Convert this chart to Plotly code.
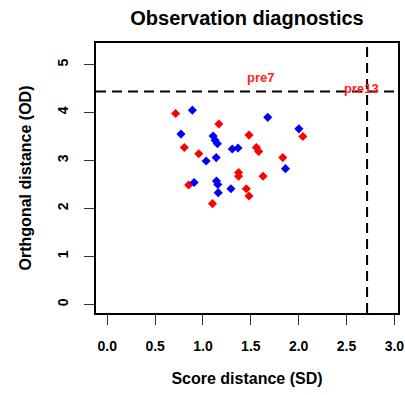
import plotly.graph_objects as go

red_sd = [0.714, 1.166, 0.805, 0.956, 1.481, 1.558, 1.582, 2.044, 1.834, 1.372, 1.372, 1.628, 0.851, 1.453, 1.481, 1.099]
red_od = [3.98, 3.76, 3.27, 3.14, 3.53, 3.27, 3.19, 3.50, 3.06, 2.75, 2.67, 2.67, 2.49, 2.41, 2.26, 2.10]

blue_sd = [0.889, 1.677, 0.770, 1.106, 1.127, 1.151, 2.002, 1.306, 1.366, 1.138, 1.033, 1.862, 0.907, 1.141, 1.155, 1.159, 1.292]
blue_od = [4.05, 3.90, 3.55, 3.51, 3.42, 3.35, 3.66, 3.24, 3.26, 3.06, 2.99, 2.83, 2.54, 2.57, 2.50, 2.33, 2.41]

sd_limit = 2.715
od_limit = 4.44

label_names = ["pre7", "pre13"]
label_sd = [1.600, 2.660]
label_od = [4.74, 4.51]

x_ticks = [0.0, 0.5, 1.0, 1.5, 2.0, 2.5, 3.0]
y_ticks = [0, 1, 2, 3, 4, 5]

FONT = "Liberation Sans, Arial, sans-serif"

fig = go.Figure()
fig.add_trace(go.Scatter(x=red_sd, y=red_od, mode="markers",
                         marker=dict(symbol="diamond", size=7, color="#FF0000"),
                         showlegend=False))
fig.add_trace(go.Scatter(x=blue_sd, y=blue_od, mode="markers",
                         marker=dict(symbol="diamond", size=7, color="#0000FF"),
                         showlegend=False))

fig.add_hline(y=od_limit, line=dict(color="black", width=2, dash="10px,6px"))
fig.add_vline(x=sd_limit, line=dict(color="black", width=2, dash="10px,6px"))

for name, xv, yv in zip(label_names, label_sd, label_od):
    fig.add_annotation(x=xv, y=yv, text=name, showarrow=False, xref="x", yref="y",
                       font=dict(family=FONT, size=13, color="#FF2222", weight="bold"))

fig.update_layout(
    width=405, height=395,
    margin=dict(l=96, r=7, t=43, b=82),
    plot_bgcolor="white", paper_bgcolor="white",
    title=dict(text="<b>Observation diagnostics</b>", x=0.5, xref="paper", xanchor="center",
               y=0.954, yanchor="middle",
               font=dict(family=FONT, size=20, color="black")),
    font=dict(family=FONT, color="black"),
)
fig.update_xaxes(range=[-0.118, 3.038], tickvals=x_ticks, tickformat=".1f",
                 automargin=False,
                 showgrid=False, zeroline=False, showline=True, linecolor="black",
                 linewidth=2, mirror=True, ticks="outside", ticklen=10, tickwidth=1,
                 tickcolor="#333", ticklabelstandoff=9,
                 tickfont=dict(family=FONT, size=14, weight="bold"),
                 title=dict(text="<b>Score distance (SD)</b>", standoff=20,
                            font=dict(family=FONT, size=16)))
fig.update_yaxes(range=[-0.18, 5.45], tickvals=y_ticks, tickangle=-90,
                 automargin=False,
                 showgrid=False, zeroline=False, showline=True, linecolor="black",
                 linewidth=2, mirror=True, ticks="outside", ticklen=10, tickwidth=1,
                 tickcolor="#333", ticklabelstandoff=10,
                 tickfont=dict(family=FONT, size=14, weight="bold"),
                 title=dict(text="<b>Orthgonal distance (OD)</b>", standoff=20,
                            font=dict(family=FONT, size=16)))

fig.write_html("out.html")
